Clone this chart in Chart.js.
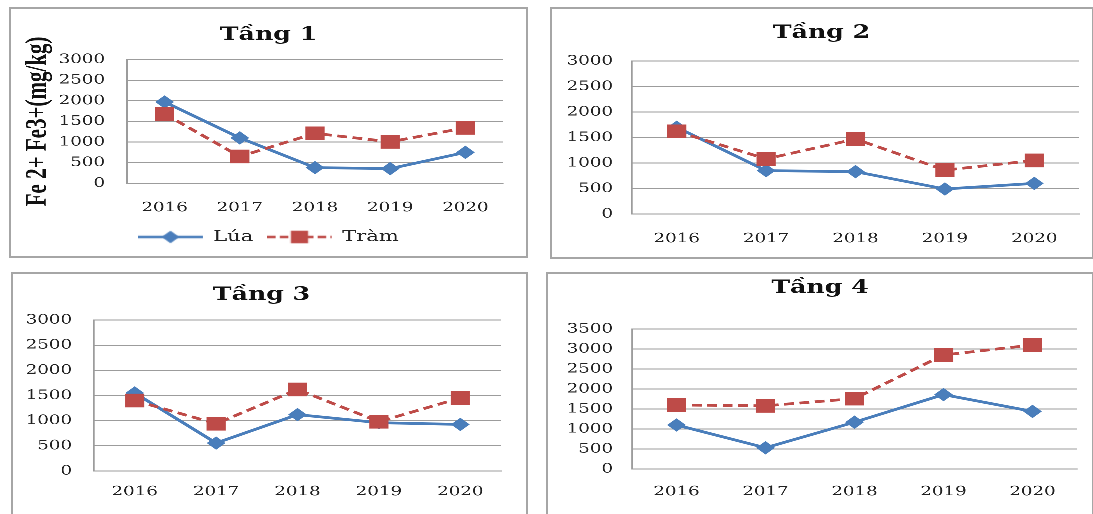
<!DOCTYPE html>
<html>
<head>
<meta charset="utf-8">
<script src="https://cdn.jsdelivr.net/npm/chart.js@4.4.1/dist/chart.umd.min.js"></script>
<style>
  html, body { margin: 0; padding: 0; background: #fff; }
  body { width: 1093px; height: 514px; position: relative; overflow: hidden; }
  canvas { position: absolute; }
  .frame { position: absolute; border: 2px solid #a6a6a6; box-sizing: border-box; }
</style>
</head>
<body>
<script>
const years = ["2016", "2017", "2018", "2019", "2020"];
const seriesNames = ["Lúa", "Tràm"];
const titles = ["Tầng 1", "Tầng 2", "Tầng 3", "Tầng 4"];
const yAxisTitle = "Fe 2+ Fe3+(mg/kg)";

const lua1 = [1970, 1100, 380, 355, 750];
const tram1 = [1680, 650, 1210, 1005, 1345];
const lua2 = [1700, 850, 830, 490, 600];
const tram2 = [1620, 1080, 1470, 860, 1050];
const lua3 = [1550, 555, 1120, 960, 925];
const tram3 = [1400, 940, 1620, 980, 1450];
const lua4 = [1100, 530, 1170, 1860, 1440];
const tram4 = [1600, 1580, 1760, 2850, 3100];
const yMax = [3000, 3000, 3000, 3500];

const BLUE = "#4a7ebb";
const RED = "#be4b48";
const GRID = "#9c9c9c";
const SX = 1.4; // the source picture is stretched sideways

// box: left, top, width, height (page px); area: plot rect inside the box
const panels = [
  { box: [10, 8, 517, 249], area: [117, 51.5, 493, 175.3], titleY: 27, tickX: 95, xLabelY: 200, lua: lua1, tram: tram1, first: true },
  { box: [551, 8, 542, 250], area: [81, 53, 529, 206], titleY: 25, tickX: 62, xLabelY: 231, lua: lua2, tram: tram2 },
  { box: [12, 273, 515, 250], area: [82, 47, 489, 198], titleY: 22, tickX: 60, xLabelY: 219, lua: lua3, tram: tram3 },
  { box: [547, 273, 546, 250], area: [85, 56, 530, 196], titleY: 15, tickX: 66, xLabelY: 219, lua: lua4, tram: tram4 },
];

function legendIcon(color, dash, style, radius) {
  const c = document.createElement("canvas");
  c.width = 46; c.height = 14;
  const g = c.getContext("2d");
  g.strokeStyle = color; g.lineWidth = 2.5;
  g.setLineDash(dash);
  g.beginPath(); g.moveTo(0, 7); g.lineTo(46, 7); g.stroke();
  g.setLineDash([]);
  g.fillStyle = color;
  Chart.helpers.drawPoint(g, { pointStyle: style, radius: radius, borderWidth: 1 }, 23, 7);
  g.fill();
  return c;
}

panels.forEach((p, i) => {
  const [bx, by, bw, bh] = p.box;
  const frame = document.createElement("div");
  frame.className = "frame";
  Object.assign(frame.style, { left: (bx - 1) + "px", top: (by - 1) + "px", width: (bw + 2) + "px", height: (bh + 2) + "px" });
  document.body.appendChild(frame);

  const cv = document.createElement("canvas");
  cv.width = Math.round(bw / SX);
  cv.height = bh;
  Object.assign(cv.style, { left: bx + "px", top: by + "px", width: bw + "px", height: bh + "px" });
  document.body.appendChild(cv);
  const sx = bw / cv.width;

  const [aL, aT, aR, aB] = p.area;
  const side = cv.width - aR / sx;
  // left padding as close to the right one as the tick labels allow, so title/legend stay centred
  const padLeft = p.first ? side : Math.max(0, Math.min(side, (p.tickX - 50) / sx));
  const titleLH = 18 * 1.2;
  const axisLH = 21 * 1.2;
  const below = bh - aB;
  const padBottom = p.first ? 2.5 : 2;

  const icons = [legendIcon(BLUE, [], "rectRot", 4.5), legendIcon(RED, [6, 3], "rect", 7)];

  new Chart(cv, {
    type: "line",
    data: {
      labels: years,
      datasets: [
        {
          label: seriesNames[0],
          data: p.lua,
          borderColor: BLUE,
          backgroundColor: BLUE,
          borderWidth: 2.75,
          pointStyle: "rectRot",
          pointRadius: 6,
          pointBorderWidth: 1,
          tension: 0,
          order: 1,
        },
        {
          label: seriesNames[1],
          data: p.tram,
          borderColor: RED,
          backgroundColor: RED,
          borderWidth: 2.75,
          borderDash: [7, 4],
          pointStyle: "rect",
          pointRadius: 9,
          pointBorderWidth: 1,
          tension: 0,
          order: 0,
        },
      ],
    },
    options: {
      responsive: false,
      animation: false,
      devicePixelRatio: 4,
      layout: {
        padding: { left: padLeft, top: 0, right: side, bottom: padBottom },
      },
      plugins: {
        title: {
          display: true,
          text: titles[i],
          color: "#111",
          font: { family: "DejaVu Serif", size: 18, weight: "bold", lineHeight: 1.2 },
          padding: { top: p.titleY - titleLH / 2, bottom: aT - p.titleY - titleLH / 2 },
        },
        legend: {
          display: !!p.first,
          position: "bottom",
          labels: {
            usePointStyle: true,
            pointStyleWidth: 46,
            padding: 10,
            color: "#222",
            font: { family: "DejaVu Serif", size: 15 },
            generateLabels: (chart) => chart.data.datasets.map((ds, k) => ({
              text: ds.label,
              pointStyle: icons[k],
              fillStyle: ds.borderColor,
              strokeStyle: ds.borderColor,
              lineWidth: 0,
              hidden: false,
              datasetIndex: k,
              fontColor: "#222",
            })),
          },
        },
        tooltip: { enabled: false },
      },
      scales: {
        x: {
          offset: true,
          grid: { display: false, drawTicks: false },
          border: { display: true, color: GRID, width: 1 },
          ticks: {
            color: "#222",
            font: { family: "DejaVu Serif", size: 13 },
            padding: p.xLabelY - aB - 8,
            maxRotation: 0,
            autoSkip: false,
          },
          afterFit: (s) => {
            const lg = p.first && s.chart.legend ? s.chart.legend.height : 0;
            s.height = below - lg - padBottom;
          },
        },
        y: {
          min: 0,
          max: yMax[i],
          grid: { color: GRID, lineWidth: 1, drawTicks: false },
          border: { display: true, color: GRID, width: 1 },
          ticks: {
            stepSize: 500,
            color: "#222",
            font: { family: "DejaVu Serif", size: 13 },
            padding: (aL - p.tickX) / sx,
            callback: (v) => String(v),
          },
          title: {
            display: !!p.first,
            text: yAxisTitle,
            color: "#111",
            font: { family: "Liberation Serif", size: 21, weight: "bold", lineHeight: 1.2 },
            padding: { top: 28 / sx - axisLH / 2 - padLeft, bottom: 0 },
          },
          afterFit: (s) => { s.width = aL / sx - padLeft; },
        },
      },
    },
  });
});
</script>
</body>
</html>
